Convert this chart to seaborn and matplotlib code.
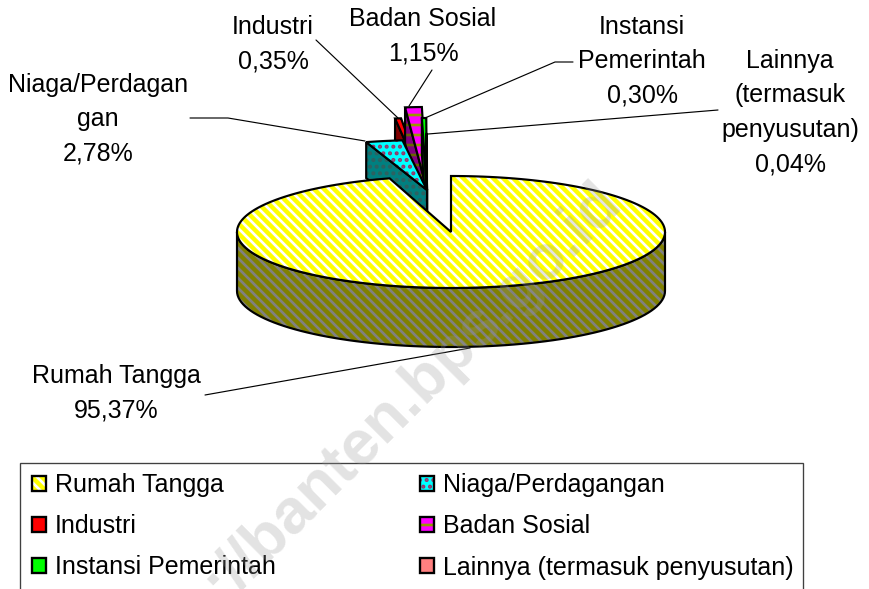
import numpy as np
import matplotlib
matplotlib.use('Agg')
import matplotlib.pyplot as plt
from matplotlib.legend_handler import HandlerTuple
from matplotlib.patches import Patch, Polygon, Rectangle
import seaborn as sns

# data
categories = ['Rumah Tangga', 'Niaga/Perdagangan', 'Industri', 'Badan Sosial',
              'Instansi Pemerintah', 'Lainnya (termasuk penyusutan)']
shares = [95.37, 2.78, 0.35, 1.15, 0.30, 0.04]
label_names = ['Rumah Tangga', 'Niaga/Perdagan\ngan', 'Industri', 'Badan Sosial',
               'Instansi\nPemerintah', 'Lainnya\n(termasuk\npenyusutan)']

sns.set_theme(style='white')
plt.rcParams['font.family'] = ['Liberation Sans', 'DejaVu Sans']
plt.rcParams['hatch.linewidth'] = 1.6

top_colors = sns.color_palette(['#FFFF00', '#00FFFF', '#FF0000', '#FF00FF', '#00FF00', '#FF8080'])
side_colors = sns.color_palette(['#808000', '#008080', '#800000', '#800080', '#008000', '#804040'])
top_hatch = ['\\' * 4, '.' * 3, None, '-' * 2, None, None]
top_hatch_col = ['white', '#993366', '#FF0000', '#999900', '#00FF00', '#FF8080']
side_hatch_col = ['#808080', '#2F6060', '#800000', '#666600', '#008000', '#804040']

fig = plt.figure(figsize=(869 / 120, 589 / 120), dpi=120)
ax = fig.add_axes([0, 0, 1, 1])
ax.set_xlim(0, 869)
ax.set_ylim(589, 0)
ax.axis('off')

# pie geometry in pixels
main_c = (451, 232)
main_r = (214, 56)
main_depth = 59
small_c = (427, 190)
small_depth = 36
small_rx = [1, 1, 1.3, 1.1, 1.1, 1.1]
small_ry = [1, 1, 1.44, 1.66, 1.44, 1.12]
small_base = (212, 50)


def arc(t0, t1, c, rx, ry, n=80):
    t = np.radians(np.linspace(t0, t1, n))
    return np.column_stack([c[0] + rx * np.sin(t), c[1] - ry * np.cos(t)])


def shape(pts, face, hatch_col, hatch, z):
    ax.add_patch(Polygon(pts, closed=True, facecolor=face, edgecolor=hatch_col, hatch=hatch, lw=0, zorder=z))
    ax.add_patch(Polygon(pts, closed=True, fill=False, edgecolor='black', lw=1.3, zorder=z + 0.01))


angles = np.concatenate([[0], np.cumsum(shares)]) * 3.6

# small slices pulled out of the pie, drawn behind it (niaga last, it sits in front)
for order, i in enumerate([2, 3, 4, 5, 1]):
    a0, a1 = angles[i], angles[i + 1]
    rx = small_base[0] * small_rx[i]
    ry = small_base[1] * small_ry[i]
    edge = arc(a0, a1, small_c, rx, ry, 12)
    down = np.array([0, small_depth])
    start = edge[0]
    shape([start, small_c, small_c + down, start + down], side_colors[i], side_hatch_col[i],
          top_hatch[i], 2 + order * 0.2)
    shape(np.vstack([[small_c], edge]), top_colors[i], top_hatch_col[i], top_hatch[i], 2.1 + order * 0.2)

# big slice: wall then top
wall = arc(90, 270, main_c, *main_r)
wall = np.vstack([wall, (wall + [0, main_depth])[::-1]])
shape(wall, side_colors[0], side_hatch_col[0], top_hatch[0], 4)
top = np.vstack([[main_c], arc(angles[0], angles[1], main_c, *main_r, 200)])
shape(top, top_colors[0], top_hatch_col[0], top_hatch[0], 5)

# labels
label_xy = [(116, 393), (98, 119), (273, 44), (423, 36), (642, 61), (790, 112.5)]
for name, v, (x, y) in zip(label_names, shares, label_xy):
    pct = f'{v:.2f}%'.replace('.', ',')
    ax.text(x, y, f'{name}\n{pct}', ha='center', va='center', fontsize=15,
            color='black', linespacing=1.55, zorder=7)

# leader lines
leaders = [[(205, 395), (470, 348)],
           [(190, 118), (228, 118), (365, 141)],
           [(316, 40), (398, 118)],
           [(432, 70), (409, 106)],
           [(573, 62), (555, 62), (425, 118)],
           [(718, 110), (428, 134)]]
for pts in leaders:
    xs, ys = zip(*pts)
    ax.plot(xs, ys, color='black', lw=0.7, zorder=6)

# legend: box runs off the bottom of the picture, entries fill row by row like the original
ax.add_patch(Rectangle((20, 463), 783, 140, facecolor='white', edgecolor='#404040', lw=0.8, zorder=1))
order = [0, 2, 4, 1, 3, 5]
handles = [(Patch(facecolor=top_colors[i], edgecolor=top_hatch_col[i], hatch=top_hatch[i], lw=0),
            Patch(fill=False, edgecolor='black', lw=1.4)) for i in order]
ax.legend(handles, [categories[i] for i in order], loc='upper left', bbox_to_anchor=(32 / 869, 1 - 473 / 589),
          ncol=2, frameon=False, fontsize=15, handlelength=0.56, handleheight=0.56, handletextpad=0.36,
          labelspacing=0.69, columnspacing=5.76, borderaxespad=0, borderpad=0, labelcolor='black',
          handler_map={tuple: HandlerTuple(ndivide=1, pad=0)})

# watermark
ax.text(612, 192, 'http://banten.bps.go.id', rotation=45, rotation_mode='anchor', ha='right', va='center',
        fontsize=38, fontweight='bold', color='#999999', alpha=0.28, zorder=9)

fig.savefig('out.png', dpi=120)
